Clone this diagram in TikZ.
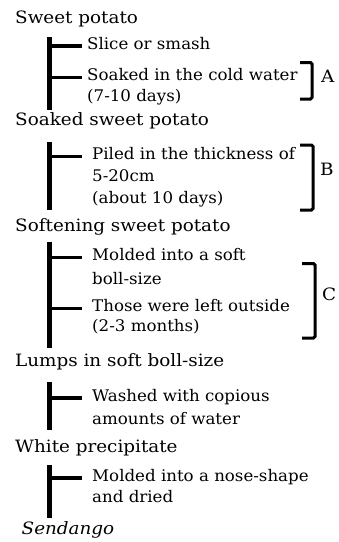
\documentclass[tikz,border=0pt]{standalone}
\usepackage{fontspec}
\setmainfont{DejaVu Serif}
\newfontfamily\headfont[FakeStretch=1.08]{DejaVu Serif}
\newfontfamily\stepfont[FakeStretch=1.04]{DejaVu Serif}
\begin{document}
\begin{tikzpicture}[x=1pt,y=-1pt,
  head/.style={anchor=west,inner sep=0pt,text height=0.8em,text depth=0.2em,font=\headfont\fontsize{17}{20}\selectfont},
  stepline/.style={anchor=west,inner sep=0pt,text height=0.8em,text depth=0.2em,font=\stepfont\fontsize{16}{19}\selectfont},
  lab/.style={anchor=west,inner sep=0pt,text height=0.8em,text depth=0.2em,font=\headfont\fontsize{17}{20}\selectfont},
  bar/.style={line width=4.5pt},
  tick/.style={line width=3.5pt},
  brk/.style={line width=3pt,rounded corners=1.5pt}]
\useasboundingbox (0,0) rectangle (339,542);
\coordinate (tx) at (82,0);
% headings
\node[head] (h1) at (15,20) {Sweet potato};
\node[head] (h2) at (15,122.5) {Soaked sweet potato};
\node[head] (h3) at (15,228.5) {Softening sweet potato};
\node[head] (h4) at (15,363) {Lumps in soft boll-size};
\node[head] (h5) at (15,449) {White precipitate};
\node[head,font=\headfont\fontsize{17}{20}\selectfont\itshape] (h6) at (21.5,531) {Sendango};
% steps
\node[stepline] (s1) at (87,46) {Slice or smash};
\node[stepline] (s2) at (87,77.5) {Soaked in the cold water};
\node[stepline] (s2b) at (87,98.5) {(7-10 days)};
\node[stepline] (s3) at (92,156.5) {Piled in the thickness of};
\node[stepline] (s3b) at (92,178) {5-20cm};
\node[stepline] (s3c) at (92,200) {(about 10 days)};
\node[stepline] (s4) at (92,257.5) {Molded into a soft};
\node[stepline] (s4b) at (92,281) {boll-size};
\node[stepline] (s5) at (92,308.5) {Those were left outside};
\node[stepline] (s5b) at (92,328) {(2-3 months)};
\node[stepline] (s6) at (92,398) {Washed with copious};
\node[stepline] (s6b) at (92,421) {amounts of water};
\node[stepline] (s7) at (92,478) {Molded into a nose-shape};
\node[stepline] (s7b) at (92,499) {and dried};
% bars
\coordinate (b1t) at (49.5,37);  \coordinate (b1b) at (49.5,110);
\coordinate (b2t) at (49.5,141.5); \coordinate (b2b) at (49.5,210);
\coordinate (b3t) at (49.5,241.5); \coordinate (b3b) at (49.5,348);
\coordinate (b4t) at (49.5,381.5); \coordinate (b4b) at (49.5,430);
\coordinate (b5t) at (49.5,465); \coordinate (b5b) at (49.5,518);
\draw[bar] (b1t) -- (b1b);
\draw[bar] (b2t) -- (b2b);
\draw[bar] (b3t) -- (b3b);
\draw[bar] (b4t) -- (b4b);
\draw[bar] (b5t) -- (b5b);
% ticks
\draw[tick] (s1.west -| b1t) -- (s1.west -| tx);
\draw[tick] (s2.west -| b1t) -- (s2.west -| tx);
\draw[tick] (s3.west -| b2t) -- (s3.west -| tx);
\draw[tick] (s4.west -| b3t) -- (s4.west -| tx);
\draw[tick] (s5.west -| b3t) -- (s5.west -| tx);
\draw[tick] (s6.west -| b4t) -- (s6.west -| tx);
\draw[tick] (s7.west -| b5t) -- (s7.west -| tx);
% brackets
\draw[brk] (300,62.5) -- (312,62.5) -- (312,99) -- (300,99);
\node[lab] (A) at (321,79) {A};
\draw[brk] (300,145) -- (313,145) -- (313,210) -- (300,210);
\node[lab] (B) at (320,172) {B};
\draw[brk] (302,263.5) -- (315,263.5) -- (315,338) -- (302,338);
\node[lab] (C) at (322,297) {C};
\end{tikzpicture}
\end{document}
